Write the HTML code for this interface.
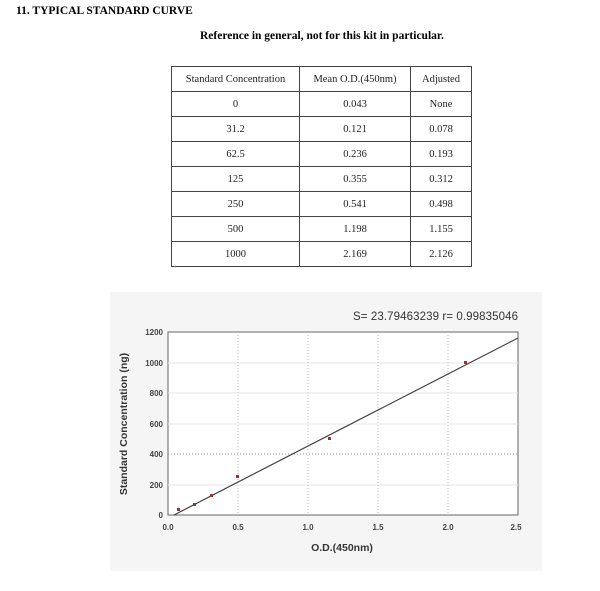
<!DOCTYPE html>
<html><head><meta charset="utf-8"><style>
body{margin:0;width:600px;height:591px;background:#fff;position:relative;font-family:"Liberation Serif",serif;overflow:hidden}
.t{position:absolute;white-space:nowrap}
table{position:absolute;left:171px;top:66px;border-collapse:collapse;font-size:10.5px;color:#222}
td{border:1px solid #444;text-align:center;height:24px;padding:0}
</style></head><body>
<div class="t" style="left:16px;top:5px;font-weight:bold;font-size:11.5px">11. TYPICAL STANDARD CURVE</div>
<div class="t" style="left:200px;top:30px;font-weight:bold;font-size:11.5px">Reference in general, not for this kit in particular.</div>
<table>
<tr><td style="width:127px">Standard Concentration</td><td style="width:110px">Mean O.D.(450nm)</td><td style="width:60px">Adjusted</td></tr>
<tr><td>0</td><td>0.043</td><td>None</td></tr>
<tr><td>31.2</td><td>0.121</td><td>0.078</td></tr>
<tr><td>62.5</td><td>0.236</td><td>0.193</td></tr>
<tr><td>125</td><td>0.355</td><td>0.312</td></tr>
<tr><td>250</td><td>0.541</td><td>0.498</td></tr>
<tr><td>500</td><td>1.198</td><td>1.155</td></tr>
<tr><td>1000</td><td>2.169</td><td>2.126</td></tr>
</table>
<svg style="position:absolute;left:0;top:0" width="600" height="591" font-family="Liberation Sans, sans-serif">
<rect x="110" y="292" width="432" height="279" fill="#f5f5f5"/>
<rect x="168" y="332" width="350" height="183" fill="#fff" stroke="#666" stroke-width="1"/>
<g stroke="#bbb" stroke-dasharray="1,2">
<line x1="238" y1="332" x2="238" y2="515"/><line x1="308" y1="332" x2="308" y2="515"/>
<line x1="378" y1="332" x2="378" y2="515"/><line x1="448" y1="332" x2="448" y2="515"/>
<line x1="168" y1="454" x2="518" y2="454" stroke="#999"/>
</g>
<g stroke="#e4e4e4"><line x1="168" y1="363" x2="518" y2="363"/><line x1="168" y1="393" x2="518" y2="393"/><line x1="168" y1="424" x2="518" y2="424"/><line x1="168" y1="485" x2="518" y2="485"/></g>
<line x1="174" y1="515" x2="518" y2="338" stroke="#444" stroke-width="1.2"/>
<g fill="#933">
<rect x="177" y="508" width="3" height="3"/><rect x="193" y="503" width="3" height="3"/><rect x="210" y="494" width="3" height="3"/>
<rect x="236" y="475" width="3" height="3"/><rect x="328" y="437" width="3" height="3"/><rect x="464" y="361" width="3" height="3"/>
</g>
<g font-size="8" font-weight="bold" fill="#444" text-anchor="end">
<text x="163" y="335">1200</text><text x="163" y="366">1000</text><text x="163" y="396">800</text>
<text x="163" y="427">600</text><text x="163" y="457">400</text><text x="163" y="488">200</text><text x="163" y="518">0</text>
</g>
<g font-size="8" font-weight="bold" fill="#444" text-anchor="middle">
<text x="168" y="530">0.0</text><text x="238" y="530">0.5</text><text x="308" y="530">1.0</text>
<text x="378" y="530">1.5</text><text x="448" y="530">2.0</text><text x="516" y="530">2.5</text>
</g>
<text x="342" y="551" font-size="10.5" font-weight="bold" fill="#333" text-anchor="middle">O.D.(450nm)</text>
<text transform="translate(127,424) rotate(-90)" font-size="10.5" font-weight="bold" fill="#333" text-anchor="middle">Standard Concentration (ng)</text>
<text x="353" y="320" font-size="11.5" fill="#333" textLength="165">S= 23.79463239  r= 0.99835046</text>
</svg>
</body></html>
